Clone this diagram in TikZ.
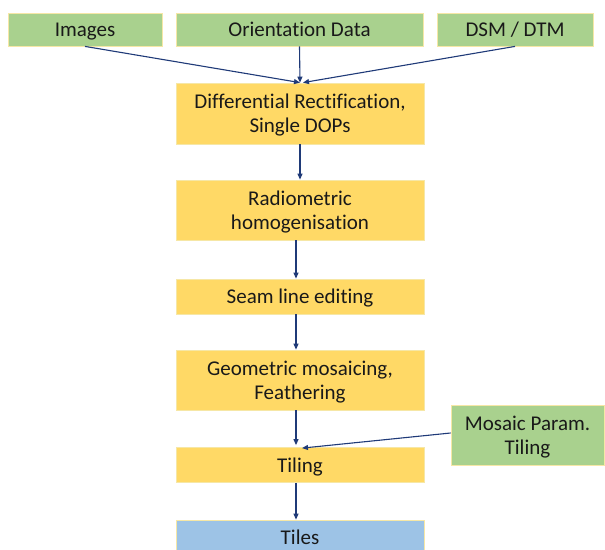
\documentclass[tikz,border=0pt]{standalone}
\usepackage{fontspec}
\setmainfont[Ligatures={NoCommon}]{Carlito}
\usetikzlibrary{arrows.meta,calc}

\definecolor{inputgreen}{HTML}{A9D18E}
\definecolor{stepyellow}{HTML}{FFD966}
\definecolor{outblue}{HTML}{9DC3E6}
\definecolor{boxedge}{HTML}{F6E7A6}
\definecolor{flownavy}{HTML}{1F3A78}

% centred lines whose capitals sit in the middle of the box
\newcommand\boxlines[1]{\raisebox{-2.4pt}[\height][\depth]{\begin{tabular}{@{}c@{}}#1\end{tabular}}}

\begin{document}
\begin{tikzpicture}[x=1pt,y=-1pt,
  box/.style={draw=boxedge, line width=0.8pt, inner sep=0pt,
    font=\fontsize{21}{24.4}\selectfont, text=black!90},
  inbox/.style={box, fill=inputgreen},
  stepbox/.style={box, fill=stepyellow, minimum width=248pt},
  outbox/.style={box, fill=outblue, minimum width=248pt},
  flow/.style={draw=flownavy, line width=1.1pt,
    -{Triangle[length=6pt,width=5pt]}}]

\useasboundingbox (0,0) rectangle (605,549);
\clip (0,0) rectangle (605,549);
\fill[white] (0,0) rectangle (605,549);

% inputs
\node[inbox, minimum width=154pt, minimum height=33pt] (img) at (85,29.5) {\boxlines{Images}};
\node[inbox, minimum width=247pt, minimum height=33pt] (ori) at (299.5,29.5) {\boxlines{Orientation Data}};
\node[inbox, minimum width=156pt, minimum height=33pt] (dsm) at (515,29.5) {\boxlines{DSM / DTM}};

% processing chain
\node[stepbox, minimum height=61pt] (diff) at (300,113.5) {\boxlines{Differential Rectification,\\Single DOPs}};
\node[stepbox, minimum height=60pt] (radio) at (300,210) {\boxlines{Radiometric\\homogenisation}};
\node[stepbox, minimum height=35pt] (seam) at (300,296.5) {\boxlines{Seam line editing}};
\node[stepbox, minimum height=60pt] (geo) at (300,380) {\boxlines{Geometric mosaicing,\\Feathering}};
\node[stepbox, minimum height=35pt] (tiling) at (300,465) {\boxlines{Tiling}};
\node[outbox, minimum height=34pt] (tiles) at (300,537) {\boxlines{Tiles}};

% side input
\node[inbox, minimum width=153pt, minimum height=60pt] (mos) at (527.5,435) {\boxlines{Mosaic Param.\\Tiling}};

% connectors
\draw[flow] (img.south) -- (diff.north);
\draw[flow] (ori.south) -- (diff.north);
\draw[flow] (dsm.south) -- ($(diff.north)+(3,0)$);
\draw[flow] (diff.south) -- (radio.north);
\draw[flow] ($(radio.south)+(-4,0)$) -- ($(seam.north)+(-4,0)$);
\draw[flow] ($(seam.south)+(-4,0)$) -- ($(geo.north)+(-4,0)$);
\draw[flow] ($(geo.south)+(-4,0)$) -- ($(tiling.north)+(-4,-2)$);
\draw[flow] ($(mos.west)+(0,-2)$) -- ($(tiling.north)+(2,1)$);
\draw[flow] ($(tiling.south)+(-4,0)$) -- ($(tiles.north)+(-4,0)$);
\end{tikzpicture}
\end{document}
